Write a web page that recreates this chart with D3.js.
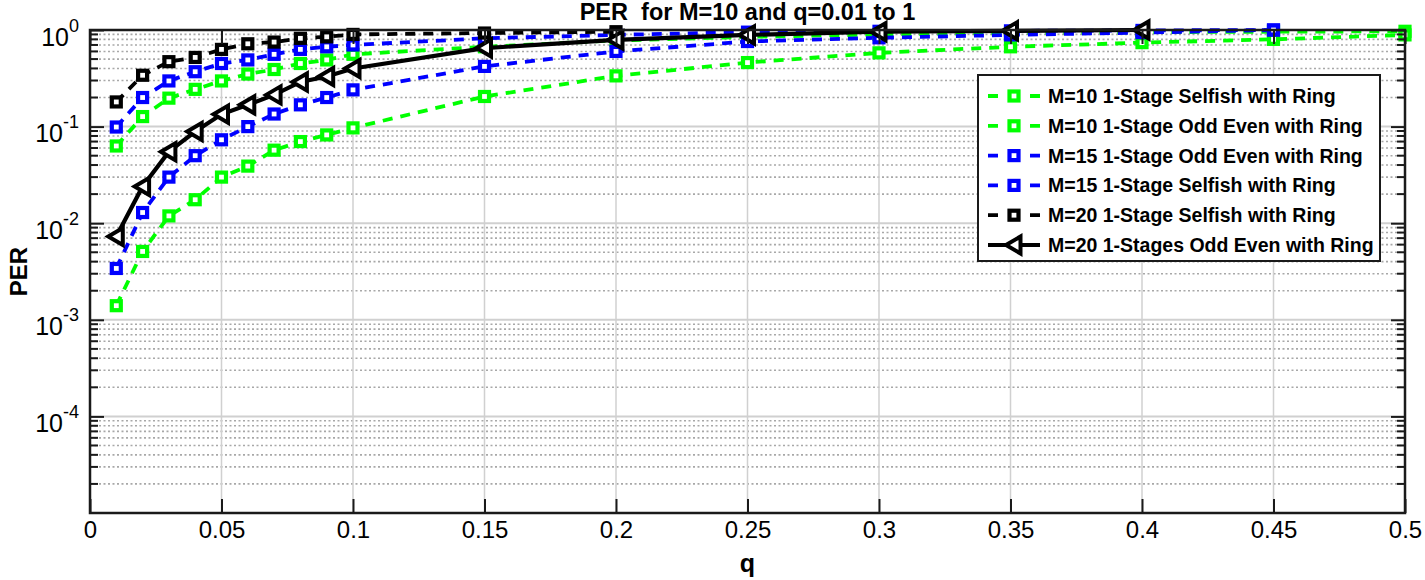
<!DOCTYPE html>
<html>
<head>
<meta charset="utf-8">
<title>PER for M=10 and q=0.01 to 1</title>
<script src="https://d3js.org/d3.v7.min.js"></script>
<style>
  body { margin: 0; background: #fff; }
  svg text { font-family: Arial, "Liberation Sans", Helvetica, sans-serif; fill: #000; }
</style>
</head>
<body>
<div class="chart"></div>
<script>
// q values on the x axis
const qValues = [0.01, 0.02, 0.03, 0.04, 0.05, 0.06, 0.07, 0.08, 0.09, 0.1,
                 0.15, 0.2, 0.25, 0.3, 0.35, 0.4, 0.45, 0.5];

// PER (shorter series stop earlier)
const m10Selfish = [0.063, 0.127, 0.197, 0.243, 0.297, 0.35, 0.39, 0.45, 0.49, 0.56,
                    0.67, 0.78, 0.85, 0.9, 0.93, 0.95, 0.96, 0.97];
const m10OddEven = [0.0014, 0.0051, 0.0119, 0.0175, 0.030, 0.039, 0.057, 0.070, 0.082, 0.097,
                    0.205, 0.335, 0.46, 0.58, 0.67, 0.74, 0.80, 0.89];
const m15OddEven = [0.0034, 0.0129, 0.030, 0.050, 0.073, 0.10, 0.135, 0.168, 0.20, 0.24,
                    0.42, 0.60, 0.76, 0.83, 0.89, 0.94, 1.0];
const m15Selfish = [0.099, 0.20, 0.297, 0.37, 0.45, 0.49, 0.56, 0.63, 0.67, 0.70,
                    0.82, 0.89, 0.95, 0.97, 0.98, 0.99, 1.0];
const m20Selfish = [0.18, 0.34, 0.47, 0.52, 0.63, 0.72, 0.75, 0.82, 0.85, 0.9,
                    0.93, 0.96];
const m20OddEven = [0.0073, 0.024, 0.055, 0.089, 0.134, 0.168, 0.213, 0.29, 0.33, 0.40,
                    0.65, 0.79, 0.89, 0.96, 0.98, 1.0];

const legendNames = [
  "M=10 1-Stage Selfish with Ring",
  "M=10 1-Stage Odd Even with Ring",
  "M=15 1-Stage Odd Even with Ring",
  "M=15 1-Stage Selfish with Ring",
  "M=20 1-Stage Selfish with Ring",
  "M=20 1-Stages Odd Even with Ring"
];

const xTicks = [0, 0.05, 0.1, 0.15, 0.2, 0.25, 0.3, 0.35, 0.4, 0.45, 0.5];
const yTicks = [1e-4, 1e-3, 1e-2, 1e-1, 1];
const yTickExp = ["-4", "-3", "-2", "-1", "0"];

const series = [
  { name: legendNames[0], values: m10Selfish, color: "#00ff00", dashed: true,  marker: "square" },
  { name: legendNames[1], values: m10OddEven, color: "#00ff00", dashed: true,  marker: "square" },
  { name: legendNames[2], values: m15OddEven, color: "#0000ff", dashed: true,  marker: "square" },
  { name: legendNames[3], values: m15Selfish, color: "#0000ff", dashed: true,  marker: "square" },
  { name: legendNames[4], values: m20Selfish, color: "#000000", dashed: true,  marker: "square" },
  { name: legendNames[5], values: m20OddEven, color: "#000000", dashed: false, marker: "triangle" }
];

const width = 1425, height = 580;
const margin = { left: 90, right: 20, top: 30, bottom: 67 };
const plotW = width - margin.left - margin.right;
const plotH = height - margin.top - margin.bottom;

const svg = d3.select(".chart").append("svg")
  .attr("width", width)
  .attr("height", height);

const x = d3.scaleLinear().domain([0, 0.5]).range([0, plotW]);
const y = d3.scaleLog().domain([1e-5, 1]).range([plotH, 0]);

const g = svg.append("g").attr("transform", `translate(${margin.left},${margin.top})`);

// minor grid (dotted)
const minorY = y.ticks().filter(v => !yTicks.includes(v) && v !== 1e-5);
g.selectAll("line.minor-grid")
  .data(minorY)
  .enter().append("line")
  .attr("x1", 0).attr("x2", plotW)
  .attr("y1", d => y(d)).attr("y2", d => y(d))
  .attr("stroke", "#a8a8a8")
  .attr("stroke-width", 1.6)
  .attr("stroke-dasharray", "2,2.5");

// major grid
g.selectAll("line.major-y")
  .data(yTicks)
  .enter().append("line")
  .attr("x1", 0).attr("x2", plotW)
  .attr("y1", d => y(d)).attr("y2", d => y(d))
  .attr("stroke", "#d0d0d0")
  .attr("stroke-width", 2);

g.selectAll("line.major-x")
  .data(xTicks)
  .enter().append("line")
  .attr("x1", d => x(d)).attr("x2", d => x(d))
  .attr("y1", 0).attr("y2", plotH)
  .attr("stroke", "#d0d0d0")
  .attr("stroke-width", 1.5);

// series lines
const line = d3.line()
  .x((d, i) => x(qValues[i]))
  .y(d => y(d));

series.forEach(s => {
  g.append("path")
    .datum(s.values)
    .attr("d", line)
    .attr("fill", "none")
    .attr("stroke", s.color)
    .attr("stroke-width", s.dashed ? 3.8 : 4.2)
    .attr("stroke-dasharray", s.dashed ? "10,8" : null);
});

function drawMarker(sel, s, cx, cy) {
  if (s.marker === "square") {
    sel.append("rect")
      .attr("x", cx - 4.5).attr("y", cy - 4.5)
      .attr("width", 9).attr("height", 9)
      .attr("fill", "#fff")
      .attr("stroke", s.color)
      .attr("stroke-width", 4.2);
  } else {
    sel.append("path")
      .attr("d", `M${cx - 8},${cy} L${cx + 6.5},${cy - 8.5} L${cx + 6.5},${cy + 8.5} Z`)
      .attr("fill", "#fff")
      .attr("stroke", s.color)
      .attr("stroke-width", 4)
      .attr("stroke-linejoin", "miter");
  }
}

series.forEach(s => {
  const mg = g.append("g");
  s.values.forEach((v, i) => drawMarker(mg, s, x(qValues[i]), y(v)));
});

// axes with inward ticks
const xAxis = d3.axisBottom(x)
  .tickValues(xTicks)
  .tickSize(-14)
  .tickPadding(8)
  .tickFormat(d => String(+d.toFixed(2)));

const xg = g.append("g").attr("transform", `translate(0,${plotH})`).call(xAxis);
xg.selectAll("text").attr("font-size", 24).attr("fill", "#1a1a1a");

const xTop = d3.axisTop(x).tickValues(xTicks).tickSize(-14).tickFormat("");
g.append("g").call(xTop);

const yAxis = d3.axisLeft(y)
  .tickValues(yTicks)
  .tickSize(-14)
  .tickPadding(11)
  .tickFormat("");

const yg = g.append("g").call(yAxis);
yg.selectAll(".tick text").each(function(d, i) {
  const t = d3.select(this).attr("font-size", 25).attr("dy", "0.6em").attr("fill", "#1a1a1a");
  t.append("tspan").text("10");
  t.append("tspan").attr("font-size", 18).attr("dy", -14).text(yTickExp[i]);
});

const yRight = d3.axisRight(y).tickValues(yTicks).tickSize(-14).tickFormat("");
g.append("g").attr("transform", `translate(${plotW},0)`).call(yRight);

// minor ticks, left and right
[0, plotW].forEach(px => {
  const dir = px === 0 ? 1 : -1;
  g.selectAll(null)
    .data(minorY)
    .enter().append("line")
    .attr("x1", px).attr("x2", px + dir * 8)
    .attr("y1", d => y(d)).attr("y2", d => y(d))
    .attr("stroke", "#1a1a1a")
    .attr("stroke-width", 2);
});

g.selectAll(".domain").attr("stroke", "none");
g.selectAll(".tick line").attr("stroke", "#1a1a1a").attr("stroke-width", 2);

// box
g.append("rect")
  .attr("x", 0).attr("y", 0)
  .attr("width", plotW).attr("height", plotH)
  .attr("fill", "none")
  .attr("stroke", "#1a1a1a")
  .attr("stroke-width", 2.5);

// title and labels
svg.append("text")
  .attr("x", margin.left + plotW / 2).attr("y", 20)
  .attr("text-anchor", "middle")
  .attr("font-size", 23.5).attr("font-weight", "bold")
  .attr("xml:space", "preserve")
  .text("PER  for M=10 and q=0.01 to 1");

svg.append("text")
  .attr("x", margin.left + plotW / 2).attr("y", 572)
  .attr("text-anchor", "middle")
  .attr("font-size", 25).attr("font-weight", "bold")
  .text("q");

svg.append("text")
  .attr("transform", `translate(27,${margin.top + plotH / 2}) rotate(-90)`)
  .attr("text-anchor", "middle")
  .attr("font-size", 24).attr("font-weight", "bold")
  .text("PER");

// legend
const legend = svg.append("g").attr("transform", "translate(978,75)");
legend.append("rect")
  .attr("width", 402).attr("height", 186)
  .attr("fill", "#fff")
  .attr("stroke", "#1a1a1a")
  .attr("stroke-width", 2);

series.forEach((s, i) => {
  const ly = 21 + i * 29.8;
  const row = legend.append("g");
  row.append("line")
    .attr("x1", 10).attr("x2", 62)
    .attr("y1", ly).attr("y2", ly)
    .attr("stroke", s.color)
    .attr("stroke-width", s.dashed ? 3.8 : 4.2)
    .attr("stroke-dasharray", s.dashed ? "10,32,10" : null);
  drawMarker(row, s, 36, ly);
  row.append("text")
    .attr("x", 70).attr("y", ly + 7)
    .attr("font-size", 19.5).attr("font-weight", "bold")
    .text(s.name);
});
</script>
</body>
</html>
